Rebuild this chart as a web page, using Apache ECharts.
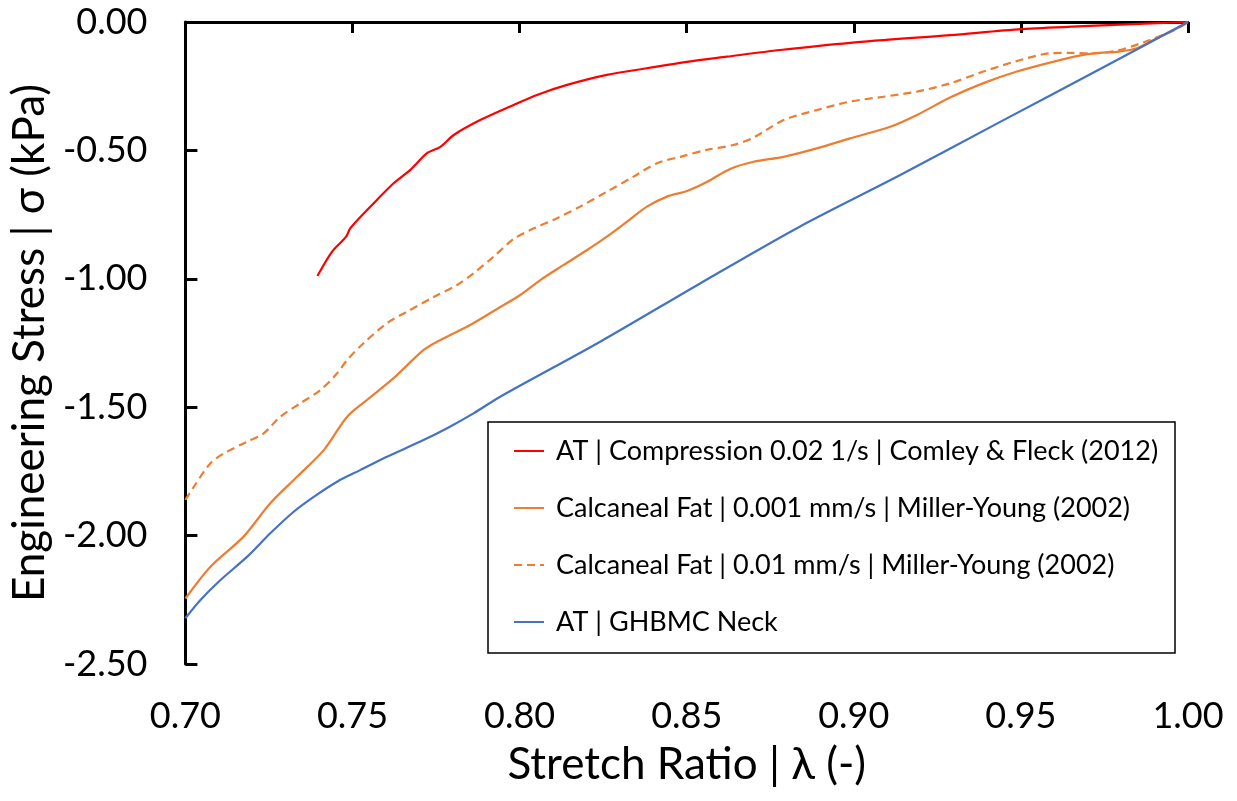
<!DOCTYPE html>
<html>
<head>
<meta charset="utf-8">
<title>Stress vs stretch</title>
<script src="https://cdn.jsdelivr.net/npm/echarts@6/dist/echarts.min.js"></script>
<style>
    html, body { margin: 0; padding: 0; background: #fff; }
    #main { width: 1237px; height: 801px; }
</style>
</head>
<body>
<div id="main"></div>
<script>
    // [stretch ratio, engineering stress kPa]
    var comleyFleck = [
        [0.7395, -0.989], [0.7439, -0.894], [0.7481, -0.836], [0.7494, -0.802], [0.7573, -0.693],
        [0.7623, -0.628], [0.7673, -0.576], [0.7723, -0.511], [0.7763, -0.486], [0.7803, -0.440],
        [0.7882, -0.382], [0.7982, -0.323], [0.8052, -0.284], [0.8142, -0.245], [0.8261, -0.206],
        [0.8381, -0.180], [0.8501, -0.155], [0.8620, -0.135], [0.8780, -0.109], [0.8989, -0.081],
        [0.9288, -0.051], [0.9503, -0.028], [0.9686, -0.016], [0.9836, -0.008], [1.0000, 0.000]
    ];
    var fatSlow = [
        [0.7000, -2.245], [0.7075, -2.121], [0.7174, -2.004], [0.7254, -1.874], [0.7334, -1.771],
        [0.7414, -1.667], [0.7484, -1.537], [0.7543, -1.472], [0.7623, -1.387], [0.7713, -1.277],
        [0.7763, -1.238], [0.7852, -1.180], [0.7942, -1.110], [0.8002, -1.063], [0.8062, -1.005],
        [0.8132, -0.946], [0.8202, -0.888], [0.8261, -0.836], [0.8321, -0.778], [0.8381, -0.719],
        [0.8441, -0.680], [0.8501, -0.658], [0.8560, -0.623], [0.8630, -0.572], [0.8700, -0.544],
        [0.8790, -0.525], [0.8889, -0.492], [0.8989, -0.453], [0.9109, -0.408], [0.9189, -0.362],
        [0.9288, -0.294], [0.9388, -0.238], [0.9488, -0.193], [0.9587, -0.158], [0.9687, -0.128],
        [0.9737, -0.120], [0.9787, -0.116], [0.9847, -0.102], [0.9906, -0.063], [0.9966, -0.025],
        [1.0000, 0.000]
    ];
    var fatFast = [
        [0.7000, -1.861], [0.7025, -1.810], [0.7075, -1.718], [0.7115, -1.680], [0.7185, -1.634],
        [0.7234, -1.602], [0.7284, -1.537], [0.7344, -1.485], [0.7404, -1.433], [0.7454, -1.368],
        [0.7484, -1.316], [0.7533, -1.251], [0.7603, -1.173], [0.7663, -1.128], [0.7743, -1.071],
        [0.7813, -1.024], [0.7862, -0.979], [0.7922, -0.914], [0.7982, -0.845], [0.8032, -0.810],
        [0.8112, -0.764], [0.8181, -0.719], [0.8261, -0.661], [0.8341, -0.602], [0.8411, -0.550],
        [0.8481, -0.525], [0.8560, -0.498], [0.8640, -0.479], [0.8700, -0.450], [0.8790, -0.382],
        [0.8889, -0.343], [0.8989, -0.310], [0.9089, -0.291], [0.9189, -0.271], [0.9288, -0.239],
        [0.9388, -0.193], [0.9488, -0.152], [0.9587, -0.122], [0.9647, -0.120], [0.9707, -0.122],
        [0.9787, -0.112], [0.9886, -0.070], [0.9966, -0.028], [1.0000, 0.000]
    ];
    var ghbmcNeck = [
        [0.7000, -2.322], [0.7045, -2.251], [0.7105, -2.173], [0.7185, -2.082], [0.7254, -1.991],
        [0.7324, -1.907], [0.7384, -1.849], [0.7454, -1.790], [0.7523, -1.745], [0.7603, -1.693],
        [0.7703, -1.634], [0.7783, -1.582], [0.7862, -1.524], [0.7942, -1.459], [0.8241, -1.245],
        [0.8540, -1.018], [0.8838, -0.797], [0.9139, -0.596], [0.9438, -0.389], [0.9737, -0.183],
        [1.0000, 0.000]
    ];
    var seriesNames = [
        'AT | Compression 0.02 1/s | Comley & Fleck (2012)',
        'Calcaneal Fat | 0.001 mm/s | Miller-Young (2002)',
        'Calcaneal Fat | 0.01 mm/s | Miller-Young (2002)',
        'AT | GHBMC Neck'
    ];
    var seriesColors = ['#ff0000', '#ed7d31', '#ed7d31', '#4472c4'];
    var seriesDash = ['solid', 'solid', [8, 5], 'solid'];
    var seriesData = [comleyFleck, fatSlow, fatFast, ghbmcNeck];

    var font = 'Lato, "Open Sans", sans-serif';
    var myChart = echarts.init(document.getElementById('main'), null, { renderer: 'canvas' });
    var tempdata = [], i;

    for (i = 0; i < seriesData.length; i++) {
        tempdata.push({
            name: seriesNames[i],
            type: 'line',
            data: seriesData[i],
            showSymbol: false,
            symbol: 'none',
            smooth: 0.3,
            color: seriesColors[i],
            lineStyle: { color: seriesColors[i], width: 2.2, type: seriesDash[i] },
            z: 3
        });
    }

    var option = {
        animation: false,
        backgroundColor: '#fff',
        textStyle: { fontFamily: font, color: '#000' },
        grid: { left: 185, right: 49, top: 22, bottom: 137 },
        legend: {
            orient: 'vertical',
            left: 513,
            top: 436,
            padding: 0,
            itemWidth: 30,
            itemHeight: 14,
            itemGap: 27,
            data: seriesNames,
            itemStyle: { opacity: 0, borderWidth: 0 },
            textStyle: { fontFamily: font, fontSize: 27, color: '#000', lineHeight: 30, padding: [0, 0, 0, 7] }
        },
        graphic: [{
            type: 'rect',
            shape: { x: 488, y: 422, width: 687, height: 231 },
            style: { fill: '#fff', stroke: '#000', lineWidth: 1.5 },
            z: 1
        }],
        xAxis: [{
            type: 'value',
            position: 'bottom',
            min: 0.7,
            max: 1.0,
            interval: 0.05,
            name: 'Stretch Ratio | \u03bb (-)',
            nameLocation: 'middle',
            nameGap: 79,
            nameTextStyle: { fontFamily: font, fontSize: 44, color: '#000' },
            axisLine: { show: false },
            axisTick: { show: false },
            splitLine: { show: false },
            axisLabel: {
                margin: 34,
                fontFamily: font,
                fontSize: 36,
                color: '#000',
                formatter: function (v) { return v.toFixed(2); }
            }
        }, {
            type: 'value',
            position: 'top',
            min: 0.7,
            max: 1.0,
            interval: 0.05,
            axisLine: { show: true, onZero: false, lineStyle: { color: '#000', width: 3 } },
            axisTick: { show: true, inside: true, length: 11, lineStyle: { color: '#000', width: 3 } },
            axisLabel: { show: false },
            splitLine: { show: false }
        }],
        yAxis: [{
            type: 'value',
            min: -2.5,
            max: 0,
            interval: 0.5,
            name: 'Engineering Stress | \u03c3 (kPa)',
            nameLocation: 'middle',
            nameGap: 128,
            nameTextStyle: { fontFamily: font, fontSize: 44, color: '#000' },
            axisLine: { show: true, onZero: false, lineStyle: { color: '#000', width: 3 } },
            axisTick: { show: true, inside: true, length: 12, lineStyle: { color: '#000', width: 3 } },
            splitLine: { show: false },
            axisLabel: {
                margin: 38,
                fontFamily: font,
                fontSize: 36,
                color: '#000',
                formatter: function (v) { return v.toFixed(2); }
            }
        }],
        series: tempdata
    };

    myChart.setOption(option);
</script>
</body>
</html>
